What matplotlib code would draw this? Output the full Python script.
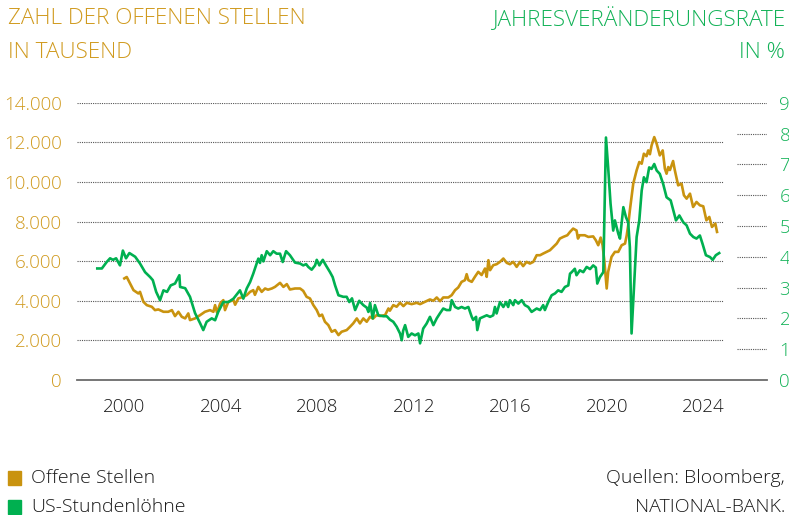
import matplotlib
matplotlib.use("Agg")
import matplotlib.pyplot as plt
from matplotlib.ticker import FuncFormatter

# US-Stundenlöhne, Jahresveränderung in %
wage_years = [1998.89, 1999.08, 1999.28, 1999.42, 1999.54, 1999.67, 1999.83, 1999.95, 2000.08, 2000.22,
              2000.46, 2000.66, 2000.87, 2001.08, 2001.19, 2001.33, 2001.49, 2001.63, 2001.78, 2001.93,
              2002.11, 2002.29, 2002.32, 2002.53, 2002.73, 2002.94, 2003.15, 2003.28, 2003.42, 2003.63,
              2003.77, 2003.90, 2004.11, 2004.32, 2004.53, 2004.80, 2004.94, 2005.08, 2005.22, 2005.35,
              2005.49, 2005.56, 2005.63, 2005.70, 2005.77, 2005.91, 2006.05, 2006.18, 2006.32, 2006.46,
              2006.57, 2006.71, 2006.87, 2007.08, 2007.29, 2007.42, 2007.54, 2007.63, 2007.77, 2007.91,
              2007.98, 2008.09, 2008.23, 2008.36, 2008.53, 2008.64, 2008.74, 2008.88, 2009.08, 2009.22,
              2009.33, 2009.44, 2009.57, 2009.74, 2009.91, 2010.05, 2010.12, 2010.19, 2010.30, 2010.39,
              2010.53, 2010.74, 2010.88, 2011.01, 2011.15, 2011.29, 2011.43, 2011.50, 2011.56, 2011.64,
              2011.77, 2011.91, 2012.05, 2012.19, 2012.26, 2012.39, 2012.53, 2012.67, 2012.81, 2012.95,
              2013.08, 2013.22, 2013.36, 2013.50, 2013.57, 2013.71, 2013.84, 2013.98, 2014.12, 2014.26,
              2014.40, 2014.46, 2014.58, 2014.63, 2014.74, 2014.88, 2015.02, 2015.16, 2015.29, 2015.36,
              2015.43, 2015.57, 2015.71, 2015.82, 2015.91, 2015.98, 2016.12, 2016.19, 2016.33, 2016.47,
              2016.60, 2016.74, 2016.88, 2017.09, 2017.23, 2017.36, 2017.43, 2017.57, 2017.71, 2017.85,
              2017.98, 2018.12, 2018.26, 2018.40, 2018.47, 2018.54, 2018.67, 2018.74, 2018.88, 2019.02,
              2019.16, 2019.30, 2019.43, 2019.54, 2019.60, 2019.71, 2019.85, 2019.96, 2020.05, 2020.15,
              2020.26, 2020.33, 2020.47, 2020.54, 2020.68, 2020.79, 2020.88, 2020.95, 2021.02, 2021.12,
              2021.23, 2021.34, 2021.44, 2021.53, 2021.64, 2021.75, 2021.85, 2021.96, 2022.06, 2022.19,
              2022.33, 2022.47, 2022.64, 2022.75, 2022.86, 2023.00, 2023.16, 2023.30, 2023.44, 2023.58,
              2023.71, 2023.85, 2023.96, 2024.10, 2024.27, 2024.38, 2024.51, 2024.65]
wage_growth = [3.62, 3.62, 3.83, 3.95, 3.90, 3.95, 3.72, 4.20, 3.95, 4.12,
               4.00, 3.78, 3.50, 3.34, 3.24, 2.86, 2.59, 2.91, 2.86, 3.07,
               3.13, 3.40, 3.02, 2.98, 2.70, 2.17, 1.84, 1.62, 1.89, 2.00,
               1.94, 2.21, 2.53, 2.53, 2.64, 2.91, 2.64, 2.97, 3.18, 3.45,
               3.78, 3.94, 3.80, 4.05, 3.85, 4.18, 4.05, 4.18, 4.10, 4.10,
               3.83, 4.18, 4.05, 3.81, 3.78, 3.72, 3.76, 3.67, 3.58, 3.72,
               3.90, 3.72, 3.90, 3.72, 3.50, 3.34, 3.07, 2.75, 2.70, 2.70,
               2.53, 2.65, 2.27, 2.57, 2.43, 2.35, 2.21, 2.50, 2.00, 2.43,
               2.10, 2.07, 2.07, 1.96, 1.89, 1.73, 1.51, 1.29, 1.60, 1.78,
               1.40, 1.51, 1.45, 1.51, 1.19, 1.67, 1.83, 2.05, 1.78, 2.00,
               2.16, 2.32, 2.27, 2.27, 2.59, 2.37, 2.32, 2.37, 2.32, 2.37,
               2.05, 1.95, 2.05, 1.62, 2.00, 2.05, 2.10, 2.05, 2.10, 2.37,
               2.16, 2.53, 2.37, 2.53, 2.37, 2.59, 2.43, 2.59, 2.48, 2.59,
               2.43, 2.37, 2.21, 2.32, 2.27, 2.43, 2.27, 2.53, 2.75, 2.81,
               2.91, 2.86, 3.02, 3.07, 3.45, 3.50, 3.61, 3.40, 3.56, 3.50,
               3.67, 3.60, 3.72, 3.65, 3.13, 3.34, 3.50, 7.87, 6.90, 5.72,
               4.85, 5.18, 4.75, 4.59, 5.61, 5.28, 5.12, 4.31, 1.51, 3.02,
               4.64, 5.18, 6.15, 6.58, 6.42, 6.90, 6.85, 7.01, 6.80, 6.69,
               6.36, 5.93, 5.83, 5.50, 5.18, 5.34, 5.12, 5.02, 4.75, 4.64,
               4.59, 4.69, 4.42, 4.05, 3.99, 3.90, 4.05, 4.12]

# Offene Stellen in Tausend
jobs_years = [2000.01, 2000.11, 2000.25, 2000.39, 2000.59, 2000.66, 2000.80, 2000.94, 2001.15, 2001.28,
              2001.42, 2001.63, 2001.83, 2001.98, 2002.11, 2002.25, 2002.39, 2002.53, 2002.66, 2002.73,
              2002.94, 2003.15, 2003.35, 2003.56, 2003.70, 2003.77, 2003.85, 2003.98, 2004.11, 2004.18,
              2004.32, 2004.53, 2004.60, 2004.73, 2004.94, 2005.08, 2005.22, 2005.35, 2005.42, 2005.56,
              2005.70, 2005.84, 2005.96, 2006.12, 2006.25, 2006.46, 2006.60, 2006.74, 2006.87, 2007.08,
              2007.29, 2007.42, 2007.56, 2007.70, 2007.84, 2007.98, 2008.09, 2008.20, 2008.32, 2008.46,
              2008.60, 2008.74, 2008.88, 2009.01, 2009.22, 2009.36, 2009.49, 2009.64, 2009.77, 2009.91,
              2010.05, 2010.19, 2010.31, 2010.46, 2010.60, 2010.81, 2010.95, 2011.01, 2011.15, 2011.29,
              2011.43, 2011.57, 2011.71, 2011.91, 2012.12, 2012.26, 2012.46, 2012.67, 2012.81, 2012.95,
              2013.09, 2013.22, 2013.43, 2013.57, 2013.71, 2013.84, 2013.98, 2014.12, 2014.19, 2014.26,
              2014.40, 2014.53, 2014.67, 2014.81, 2014.95, 2015.02, 2015.09, 2015.16, 2015.29, 2015.43,
              2015.57, 2015.71, 2015.85, 2015.98, 2016.12, 2016.26, 2016.40, 2016.53, 2016.67, 2016.81,
              2016.95, 2017.09, 2017.23, 2017.36, 2017.50, 2017.64, 2017.78, 2017.92, 2018.05, 2018.19,
              2018.36, 2018.47, 2018.60, 2018.74, 2018.80, 2018.87, 2019.08, 2019.23, 2019.43, 2019.54,
              2019.64, 2019.74, 2019.82, 2019.89, 2019.99, 2020.05, 2020.19, 2020.33, 2020.47, 2020.61,
              2020.75, 2020.82, 2020.88, 2020.95, 2021.09, 2021.23, 2021.34, 2021.44, 2021.53, 2021.64,
              2021.71, 2021.78, 2021.85, 2021.96, 2022.06, 2022.19, 2022.31, 2022.40, 2022.47, 2022.54,
              2022.61, 2022.74, 2022.81, 2022.95, 2023.09, 2023.19, 2023.30, 2023.44, 2023.57, 2023.71,
              2023.85, 2023.99, 2024.12, 2024.24, 2024.35, 2024.49, 2024.56]
job_openings = [5128, 5200, 4870, 4536, 4370, 4450, 3946, 3780, 3695, 3528,
                3563, 3444, 3444, 3528, 3226, 3444, 3190, 3110, 3362, 3024,
                3110, 3276, 3444, 3528, 3444, 3780, 3400, 3866, 4032, 3528,
                3946, 4032, 3800, 4117, 4200, 4284, 4450, 4536, 4300, 4700,
                4450, 4620, 4560, 4620, 4700, 4905, 4700, 4840, 4570, 4620,
                4620, 4500, 4200, 4117, 3780, 3528, 3226, 3300, 2940, 2772,
                2436, 2520, 2268, 2436, 2520, 2688, 2856, 3108, 2856, 3108,
                2940, 3192, 3100, 3276, 3230, 3276, 3612, 3500, 3780, 3700,
                3900, 3730, 3896, 3830, 3896, 3830, 3946, 4067, 4000, 4167,
                3980, 4167, 4167, 4284, 4536, 4670, 4955, 5040, 5342, 5040,
                4955, 5208, 5460, 5300, 5628, 5208, 6048, 5544, 5796, 5846,
                5964, 6132, 5914, 5846, 5964, 5712, 5964, 5750, 5964, 5880,
                5964, 6300, 6300, 6384, 6468, 6552, 6720, 6888, 7140, 7224,
                7308, 7476, 7644, 7550, 7140, 7308, 7308, 7224, 7250, 7056,
                6804, 7190, 6804, 6048, 4620, 5460, 6216, 6468, 6468, 6804,
                6888, 7308, 7812, 8568, 9913, 10584, 11004, 10920, 11424, 11300,
                11592, 11400, 11844, 12264, 11928, 11340, 11592, 10668, 10416, 10752,
                10600, 11055, 10600, 9828, 9912, 9324, 9156, 9408, 8736, 8988,
                8820, 8770, 8064, 8232, 7728, 7896, 7476]

year_ticks = [2000, 2004, 2008, 2012, 2016, 2020, 2024]
left_ticks = [0, 2000, 4000, 6000, 8000, 10000, 12000, 14000]
right_ticks = [0, 1, 2, 3, 4, 5, 6, 7, 8, 9]

gold_line = "#C9930F"
gold_text = "#D09A1E"
green_line = "#00B050"
green_text = "#12B257"
dark = "#1a1a1a"

plt.rcParams["font.family"] = ["Open Sans", "DejaVu Sans"]
plt.rcParams["font.weight"] = "light"

W, H = 789, 515
fig = plt.figure(figsize=(W / 100, H / 100), dpi=100)
ax = fig.add_axes([77 / W, 135 / H, 690 / W, 277.3 / H])
ax2 = ax.twinx()

ax.plot(jobs_years, job_openings, color=gold_line, lw=1.9, solid_joinstyle="round")
ax2.plot(wage_years, wage_growth, color=green_line, lw=1.9, solid_joinstyle="round")

ax.set_xlim(1998.05, 2026.63)
ax.set_ylim(0, 14000)
ax2.set_ylim(0, 9)

# gridlines: left scale long dotted lines, right scale short dotted ticks
for v in left_ticks[1:]:
    ax.axhline(v, xmin=0, xmax=1 if v == 14000 else 0.936,
               color="#555555", lw=0.8, ls=(0, (1, 1)), zorder=0)
for v in right_ticks[1:-1]:
    ax2.axhline(v, xmin=0.957, xmax=1, color="#555555", lw=0.8, ls=(0, (1, 1)), zorder=0)

for a in (ax, ax2):
    for s in ("top", "left", "right"):
        a.spines[s].set_visible(False)
ax2.spines["bottom"].set_visible(False)
ax.spines["bottom"].set_color("#6b6b6b")
ax.spines["bottom"].set_linewidth(1.3)

ax.set_yticks(left_ticks)
ax.yaxis.set_major_formatter(FuncFormatter(lambda v, p: f"{v:,.0f}".replace(",", ".")))
ax.tick_params(axis="y", length=0, pad=11, labelsize=13.5, labelcolor=gold_text)
ax2.set_yticks(right_ticks)
ax2.tick_params(axis="y", length=0, pad=9, labelsize=13.5, labelcolor=green_text)
ax.set_xticks(year_ticks)
ax.tick_params(axis="x", length=0, pad=13, labelsize=13.4, labelcolor=dark)

# titles
title_kw = dict(fontsize=16.2, va="center")
fig.text(8 / W, 1 - 19 / H, "ZAHL DER OFFENEN STELLEN", color=gold_text, ha="left", **title_kw)
fig.text(8 / W, 1 - 53 / H, "IN TAUSEND", color=gold_text, ha="left", **title_kw)
fig.text(785 / W, 1 - 19 / H, "JAHRESVERÄNDERUNGSRATE", color=green_text, ha="right", **title_kw)
fig.text(785 / W, 1 - 53 / H, "IN %", color=green_text, ha="right", **title_kw)

# legend
for yy, col, lab in [(478, gold_line, "Offene Stellen"), (507, green_line, "US-Stundenlöhne")]:
    fig.patches.append(plt.Rectangle((8 / W, 1 - (yy + 7) / H), 12.5 / W, 14 / H,
                                     transform=fig.transFigure, color=col))
    fig.text(31 / W, 1 - yy / H, lab, fontsize=14, color=dark, ha="left", va="center")

fig.text(785 / W, 1 - 478 / H, "Quellen: Bloomberg,", fontsize=14, color=dark,
         ha="right", va="center")
fig.text(785 / W, 1 - 507 / H, "NATIONAL-BANK.", fontsize=14, color=dark,
         ha="right", va="center")

fig.savefig("out.png", dpi=100)
